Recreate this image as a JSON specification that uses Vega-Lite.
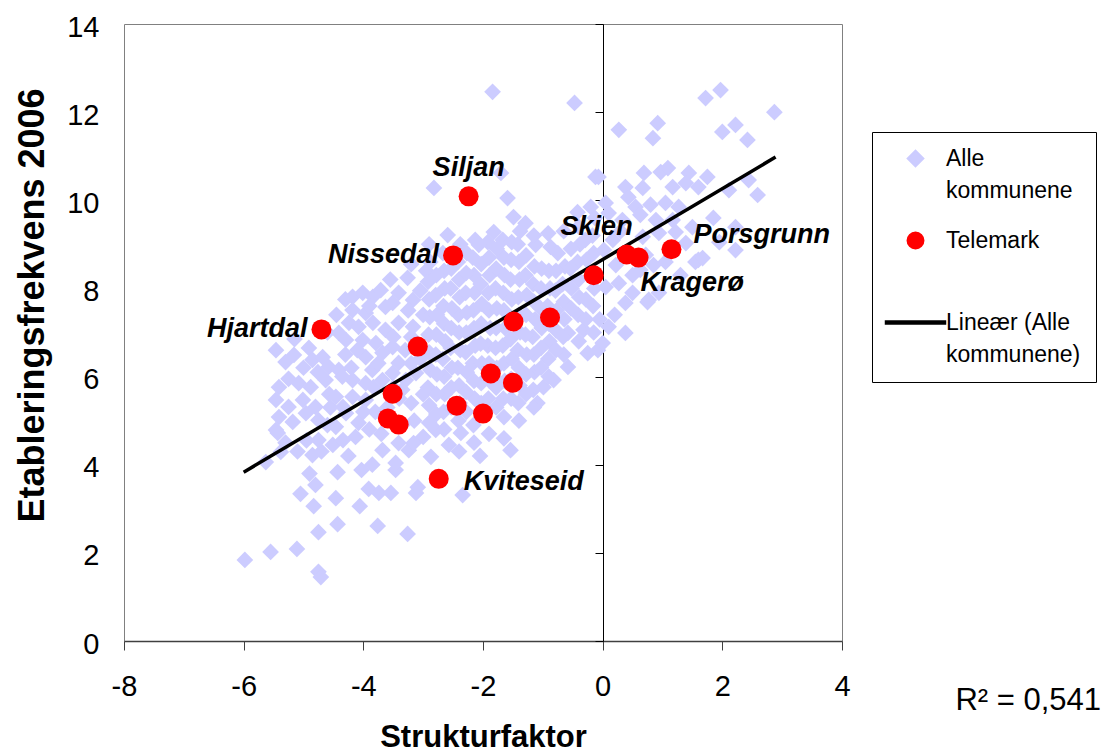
{
  "$schema": "https://vega.github.io/schema/vega-lite/v6.json",
  "autosize": "none",
  "width": 718,
  "height": 617,
  "padding": {"left": 124, "top": 24, "right": 264, "bottom": 112},
  "background": "white",
  "title": {
    "text": "R² = 0,541",
    "orient": "bottom",
    "anchor": "end",
    "frame": "group",
    "font": "Liberation Sans",
    "fontSize": 31,
    "fontWeight": "normal",
    "color": "#000000",
    "offset": -66,
    "dx": 259
  },
  "datasets": {
    "alle": [
      {"x":-5.98,"y":1.84},{"x":-5.55,"y":2.02},{"x":-5.11,"y":2.09},{"x":-4.75,"y":1.57},{"x":-4.71,"y":1.45},
      {"x":-4.75,"y":2.47},{"x":-5.05,"y":3.34},{"x":-4.83,"y":3.06},{"x":-4.8,"y":3.54},{"x":-4.85,"y":4.22},
      {"x":-5.63,"y":4.06},{"x":-5.38,"y":4.29},{"x":-5.43,"y":4.72},{"x":-4.75,"y":4.56},{"x":-4.51,"y":4.45},
      {"x":-5.46,"y":6.6},{"x":-5.16,"y":6.49},{"x":-5.3,"y":6.33},{"x":-4.91,"y":6.65},{"x":-4.85,"y":6.38},
      {"x":-4.68,"y":6.44},{"x":-4.76,"y":6.1},{"x":-5.41,"y":5.76},{"x":-5.08,"y":5.85},{"x":-4.88,"y":5.76},
      {"x":-5.46,"y":5.47},{"x":-5.25,"y":5.31},{"x":-5.01,"y":5.47},{"x":-4.8,"y":5.31},{"x":-5.41,"y":5.08},
      {"x":-5.18,"y":4.97},{"x":-4.96,"y":5.17},{"x":-4.75,"y":5.01},{"x":-5.46,"y":4.79},{"x":-5.15,"y":6.85},
      {"x":-4.58,"y":6.22},{"x":-4.63,"y":5.92},{"x":-4.6,"y":7.0},{"x":-4.55,"y":5.3},{"x":-4.6,"y":4.9},
      {"x":-4.95,"y":4.55},{"x":-5.1,"y":4.3},{"x":-5.25,"y":5.95},{"x":-5.0,"y":6.2},{"x":-4.57,"y":5.6},
      {"x":-5.3,"y":4.5},{"x":-4.7,"y":4.3},{"x":-4.9,"y":3.8},
      {"x":-4.43,"y":2.65},{"x":-4.46,"y":3.24},{"x":-4.06,"y":3.06},{"x":-4.43,"y":3.83},{"x":-4.03,"y":3.88},
      {"x":-3.91,"y":3.45},{"x":-3.74,"y":3.36},{"x":-3.54,"y":3.36},{"x":-3.46,"y":3.88},{"x":-3.12,"y":3.36},
      {"x":-3.76,"y":2.61},{"x":-3.26,"y":2.43},{"x":-4.34,"y":4.56},{"x":-4.13,"y":4.63},{"x":-3.68,"y":4.33},
      {"x":-3.46,"y":4.04},{"x":-3.24,"y":4.33},{"x":-3.41,"y":4.49},{"x":-3.0,"y":4.63},{"x":-4.25,"y":4.2},
      {"x":-3.85,"y":4.0},{"x":-4.18,"y":7.81},{"x":-4.01,"y":7.9},{"x":-3.84,"y":7.81},{"x":-3.71,"y":7.96},
      {"x":-3.63,"y":7.58},{"x":-3.51,"y":7.67},{"x":-3.41,"y":7.9},{"x":-3.26,"y":8.24},{"x":-3.17,"y":7.74},
      {"x":-4.18,"y":7.51},{"x":-3.96,"y":7.44},{"x":-4.24,"y":7.22},{"x":-4.08,"y":7.13},{"x":-3.84,"y":7.22},
      {"x":-3.63,"y":7.06},{"x":-3.41,"y":7.22},{"x":-3.17,"y":7.13},{"x":-4.41,"y":6.99},{"x":-4.29,"y":6.83},
      {"x":-4.01,"y":6.83},{"x":-3.79,"y":6.76},{"x":-3.51,"y":6.67},{"x":-3.68,"y":6.54},{"x":-3.96,"y":6.44},
      {"x":-3.41,"y":6.31},{"x":-3.51,"y":6.08},{"x":-3.68,"y":5.92},{"x":-3.29,"y":5.92},{"x":-3.12,"y":6.08},
      {"x":-4.41,"y":6.15},{"x":-4.18,"y":5.92},{"x":-3.96,"y":5.85},{"x":-4.46,"y":5.54},{"x":-4.34,"y":5.31},
      {"x":-4.18,"y":5.54},{"x":-3.96,"y":5.47},{"x":-3.83,"y":5.76},{"x":-4.46,"y":4.86},{"x":-4.29,"y":5.17},
      {"x":-4.08,"y":4.95},{"x":-4.45,"y":7.4},{"x":-4.3,"y":7.75},{"x":-4.3,"y":6.5},{"x":-4.2,"y":6.2},
      {"x":-3.85,"y":6.15},{"x":-3.3,"y":6.6},{"x":-3.2,"y":6.9},{"x":-3.8,"y":5.2},{"x":-3.6,"y":5.3},
      {"x":-3.4,"y":5.5},{"x":-3.2,"y":5.4},{"x":-3.9,"y":4.8},{"x":-3.7,"y":4.7},{"x":-3.35,"y":4.9},
      {"x":-3.15,"y":5.0},{"x":-3.0,"y":5.6},{"x":-3.05,"y":6.4},{"x":-3.0,"y":7.4},{"x":-3.05,"y":7.95},
      {"x":-3.55,"y":8.2},{"x":-3.2,"y":8.55},{"x":-2.95,"y":8.4},{"x":-3.35,"y":5.7},{"x":-3.2,"y":6.3},
      {"x":-3.5,"y":6.9},{"x":-3.75,"y":6.3},{"x":-4.1,"y":6.6},{"x":-4.35,"y":6.0},{"x":-4.0,"y":5.2},
      {"x":-3.5,"y":5.75},{"x":-3.25,"y":7.5},{"x":-3.9,"y":7.6},
      {"x":-3.09,"y":3.49},{"x":-2.87,"y":4.18},{"x":-3.16,"y":4.49},{"x":-2.79,"y":4.79},{"x":-2.57,"y":4.45},
      {"x":-2.37,"y":4.72},{"x":-2.34,"y":3.31},{"x":-2.05,"y":4.2},{"x":-1.54,"y":4.33},{"x":-1.65,"y":5.08},
      {"x":-2.9,"y":4.95},{"x":-2.9,"y":5.35},{"x":-2.92,"y":5.75},{"x":-2.88,"y":6.15},{"x":-2.9,"y":6.55},
      {"x":-2.91,"y":6.95},{"x":-2.89,"y":7.35},{"x":-2.9,"y":7.75},{"x":-2.92,"y":8.15},{"x":-2.88,"y":8.6},
      {"x":-2.9,"y":9.0},
      {"x":-2.65,"y":4.8},{"x":-2.66,"y":5.2},{"x":-2.64,"y":5.6},{"x":-2.65,"y":6.0},{"x":-2.67,"y":6.4},
      {"x":-2.63,"y":6.8},{"x":-2.65,"y":7.2},{"x":-2.66,"y":7.6},{"x":-2.64,"y":8.0},{"x":-2.65,"y":8.4},
      {"x":-2.67,"y":8.8},
      {"x":-2.4,"y":4.3},{"x":-2.41,"y":5.0},{"x":-2.39,"y":5.4},{"x":-2.4,"y":5.8},{"x":-2.42,"y":6.2},
      {"x":-2.38,"y":6.6},{"x":-2.4,"y":7.0},{"x":-2.41,"y":7.4},{"x":-2.39,"y":7.8},{"x":-2.4,"y":8.2},
      {"x":-2.42,"y":8.6},{"x":-2.38,"y":9.0},
      {"x":-2.15,"y":4.5},{"x":-2.16,"y":4.9},{"x":-2.14,"y":5.5},{"x":-2.15,"y":5.9},{"x":-2.17,"y":6.3},
      {"x":-2.13,"y":6.7},{"x":-2.15,"y":7.1},{"x":-2.16,"y":7.5},{"x":-2.14,"y":7.9},{"x":-2.15,"y":8.3},
      {"x":-2.17,"y":8.7},{"x":-2.13,"y":9.1},
      {"x":-1.9,"y":4.7},{"x":-1.91,"y":5.5},{"x":-1.89,"y":5.9},{"x":-1.9,"y":6.3},{"x":-1.92,"y":6.7},
      {"x":-1.88,"y":7.1},{"x":-1.9,"y":7.5},{"x":-1.91,"y":7.9},{"x":-1.89,"y":8.3},{"x":-1.9,"y":8.7},
      {"x":-1.92,"y":9.05},
      {"x":-1.65,"y":4.6},{"x":-1.66,"y":5.5},{"x":-1.64,"y":5.9},{"x":-1.65,"y":6.3},{"x":-1.67,"y":6.7},
      {"x":-1.63,"y":7.1},{"x":-1.65,"y":7.5},{"x":-1.66,"y":7.9},{"x":-1.64,"y":8.3},{"x":-1.65,"y":8.7},
      {"x":-1.67,"y":9.1},
      {"x":-2.78,"y":5.15},{"x":-2.78,"y":5.6},{"x":-2.77,"y":6.05},{"x":-2.79,"y":6.5},{"x":-2.78,"y":6.95},
      {"x":-2.77,"y":7.4},{"x":-2.79,"y":7.85},{"x":-2.78,"y":8.3},
      {"x":-2.53,"y":5.3},{"x":-2.53,"y":5.75},{"x":-2.52,"y":6.2},{"x":-2.54,"y":6.65},{"x":-2.53,"y":7.1},
      {"x":-2.52,"y":7.55},{"x":-2.54,"y":8.0},{"x":-2.53,"y":8.45},
      {"x":-2.28,"y":5.2},{"x":-2.28,"y":5.65},{"x":-2.27,"y":6.1},{"x":-2.29,"y":6.55},{"x":-2.28,"y":7.0},
      {"x":-2.27,"y":7.45},{"x":-2.29,"y":7.9},{"x":-2.28,"y":8.35},{"x":-2.27,"y":8.8},
      {"x":-2.03,"y":5.4},{"x":-2.03,"y":5.85},{"x":-2.02,"y":6.3},{"x":-2.04,"y":6.75},{"x":-2.03,"y":7.2},
      {"x":-2.02,"y":7.65},{"x":-2.04,"y":8.1},{"x":-2.03,"y":8.55},
      {"x":-1.78,"y":5.3},{"x":-1.78,"y":5.75},{"x":-1.77,"y":6.2},{"x":-1.79,"y":6.65},{"x":-1.78,"y":7.1},
      {"x":-1.77,"y":7.55},{"x":-1.79,"y":8.0},{"x":-1.78,"y":8.45},{"x":-1.77,"y":8.9},
      {"x":-1.53,"y":5.5},{"x":-1.53,"y":5.95},{"x":-1.52,"y":6.4},{"x":-1.54,"y":6.85},{"x":-1.53,"y":7.3},
      {"x":-1.52,"y":7.75},{"x":-1.54,"y":8.2},{"x":-1.53,"y":8.65},{"x":-1.52,"y":9.05},
      {"x":-2.82,"y":10.28},{"x":-1.84,"y":12.46},{"x":-1.59,"y":10.05},{"x":-1.7,"y":10.62},{"x":-1.49,"y":9.62},
      {"x":-1.29,"y":9.48},{"x":-1.82,"y":9.28},{"x":-2.07,"y":8.99},{"x":-2.59,"y":9.21},{"x":-1.12,"y":8.99},
      {"x":-0.87,"y":8.94},{"x":-0.75,"y":8.8},{"x":-0.42,"y":9.73},{"x":-0.2,"y":9.85},{"x":-0.12,"y":10.53},
      {"x":-0.47,"y":12.21},{"x":-1.09,"y":5.4},{"x":-0.99,"y":5.76},{"x":-0.82,"y":5.92},{"x":-0.58,"y":6.22},
      {"x":-0.25,"y":6.53},{"x":-0.08,"y":6.6},{"x":-0.32,"y":7.06},{"x":-0.58,"y":6.99},
      {"x":-1.4,"y":5.0},{"x":-1.41,"y":5.4},{"x":-1.39,"y":5.8},{"x":-1.4,"y":6.2},{"x":-1.42,"y":6.6},
      {"x":-1.38,"y":7.0},{"x":-1.4,"y":7.4},{"x":-1.41,"y":7.8},{"x":-1.39,"y":8.2},{"x":-1.4,"y":8.6},
      {"x":-1.42,"y":9.0},{"x":-1.38,"y":9.3},
      {"x":-1.15,"y":5.3},{"x":-1.16,"y":5.7},{"x":-1.14,"y":6.1},{"x":-1.15,"y":6.5},{"x":-1.17,"y":6.9},
      {"x":-1.13,"y":7.3},{"x":-1.15,"y":7.7},{"x":-1.16,"y":8.1},{"x":-1.14,"y":8.5},{"x":-1.15,"y":9.2},
      {"x":-0.9,"y":6.0},{"x":-0.91,"y":6.4},{"x":-0.89,"y":6.8},{"x":-0.9,"y":7.2},{"x":-0.92,"y":7.6},
      {"x":-0.88,"y":8.0},{"x":-0.9,"y":8.4},{"x":-0.91,"y":9.25},
      {"x":-0.65,"y":6.5},{"x":-0.66,"y":6.9},{"x":-0.64,"y":7.3},{"x":-0.65,"y":7.7},{"x":-0.67,"y":8.1},
      {"x":-0.63,"y":8.5},{"x":-0.65,"y":9.3},
      {"x":-0.4,"y":6.8},{"x":-0.41,"y":7.4},{"x":-0.39,"y":7.8},{"x":-0.4,"y":8.2},{"x":-0.42,"y":8.6},
      {"x":-0.38,"y":9.0},{"x":-0.4,"y":9.4},
      {"x":-0.15,"y":7.0},{"x":-0.16,"y":7.6},{"x":-0.14,"y":8.0},{"x":-0.15,"y":8.8},{"x":-0.17,"y":9.2},
      {"x":-0.13,"y":9.6},
      {"x":-1.28,"y":5.6},{"x":-1.28,"y":6.05},{"x":-1.27,"y":6.5},{"x":-1.29,"y":6.95},{"x":-1.28,"y":7.4},
      {"x":-1.27,"y":7.85},{"x":-1.29,"y":8.3},{"x":-1.28,"y":8.75},
      {"x":-1.03,"y":6.2},{"x":-1.03,"y":6.65},{"x":-1.02,"y":7.1},{"x":-1.04,"y":7.55},{"x":-1.03,"y":8.0},
      {"x":-1.02,"y":8.45},
      {"x":-0.78,"y":6.6},{"x":-0.78,"y":7.05},{"x":-0.77,"y":7.5},{"x":-0.79,"y":7.95},{"x":-0.78,"y":8.4},
      {"x":-0.53,"y":7.55},{"x":-0.52,"y":8.0},{"x":-0.54,"y":8.45},{"x":-0.53,"y":8.9},
      {"x":-0.28,"y":7.3},{"x":-0.28,"y":7.75},{"x":-0.27,"y":8.65},{"x":-0.29,"y":9.1},
      {"x":1.72,"y":12.32},{"x":1.97,"y":12.5},{"x":2.87,"y":12.0},{"x":0.27,"y":11.6},{"x":0.92,"y":11.75},
      {"x":0.84,"y":11.41},{"x":2.0,"y":11.55},{"x":2.22,"y":11.71},{"x":2.42,"y":11.37},{"x":-0.07,"y":10.53},
      {"x":0.38,"y":10.3},{"x":0.69,"y":10.62},{"x":0.97,"y":10.64},{"x":1.09,"y":10.73},{"x":1.44,"y":10.62},
      {"x":1.75,"y":10.53},{"x":0.67,"y":10.28},{"x":1.17,"y":10.3},{"x":1.39,"y":10.39},{"x":1.6,"y":10.3},
      {"x":2.11,"y":10.23},{"x":2.44,"y":10.46},{"x":2.59,"y":10.12},{"x":0.05,"y":9.94},{"x":0.43,"y":10.07},
      {"x":0.55,"y":9.85},{"x":1.05,"y":9.94},{"x":1.27,"y":9.85},{"x":0.1,"y":9.71},{"x":0.33,"y":9.55},
      {"x":0.89,"y":9.55},{"x":1.17,"y":9.55},{"x":1.5,"y":9.39},{"x":2.22,"y":9.39},{"x":0.94,"y":9.26},
      {"x":1.22,"y":9.28},{"x":0.67,"y":9.17},{"x":1.39,"y":9.03},{"x":1.6,"y":8.65},{"x":1.05,"y":8.6},
      {"x":0.85,"y":8.53},{"x":0.27,"y":8.12},{"x":0.5,"y":7.9},{"x":0.77,"y":7.74},{"x":0.94,"y":7.9},
      {"x":0.38,"y":7.67},{"x":0.05,"y":8.03},{"x":0.1,"y":7.13},{"x":0.38,"y":6.99},{"x":0.0,"y":6.76},
      {"x":0.02,"y":8.87},{"x":0.17,"y":9.1},{"x":0.63,"y":8.42},{"x":0.72,"y":8.76},{"x":0.75,"y":7.69},
      {"x":1.55,"y":8.6},{"x":1.67,"y":8.69},{"x":2.22,"y":8.87},{"x":0.63,"y":9.67},{"x":0.22,"y":8.53},
      {"x":-0.05,"y":7.3},{"x":0.2,"y":7.4},{"x":0.3,"y":9.3},{"x":0.5,"y":8.3},{"x":0.8,"y":9.9},
      {"x":1.3,"y":8.3},{"x":1.85,"y":9.6},{"x":1.95,"y":9.05}
    ],
    "tele": [
      {"x":-4.7,"y":7.07,"name":"Hjartdal"},
      {"x":-2.24,"y":10.09,"name":"Siljan"},
      {"x":-2.5,"y":8.75,"name":"Nissedal"},
      {"x":0.4,"y":8.77,"name":"Skien"},
      {"x":0.6,"y":8.7,"name":"Kragerø"},
      {"x":1.15,"y":8.89,"name":"Porsgrunn"},
      {"x":-0.15,"y":8.3,"name":""},
      {"x":-1.49,"y":7.25,"name":""},
      {"x":-0.88,"y":7.34,"name":""},
      {"x":-3.09,"y":6.68,"name":""},
      {"x":-1.87,"y":6.07,"name":""},
      {"x":-1.5,"y":5.86,"name":""},
      {"x":-2.44,"y":5.34,"name":""},
      {"x":-2.0,"y":5.16,"name":""},
      {"x":-2.74,"y":3.68,"name":"Kviteseid"},
      {"x":-3.51,"y":5.61,"name":""},
      {"x":-3.59,"y":5.05,"name":""},
      {"x":-3.41,"y":4.91,"name":""}
    ],
    "trend": [
      {"x":-6.0,"y":3.83},
      {"x":2.89,"y":10.98}
    ]
  },
  "encoding": {
    "x": {
      "field": "x",
      "type": "quantitative",
      "scale": {"domain": [-8, 4], "nice": false, "zero": false},
      "axis": {
        "title": "Strukturfaktor",
        "values": [-8, -6, -4, -2, 0, 2, 4],
        "labelExpr": "toString(datum.value)",
        "grid": false,
        "domainColor": "#404040",
        "domainWidth": 1.5,
        "tickColor": "#404040",
        "tickSize": 9,
        "labelFontSize": 29,
        "labelColor": "#000000",
        "labelPadding": 22,
        "labelFlush": false,
        "labelOverlap": false,
        "titleFontSize": 31,
        "titleFontWeight": "bold",
        "titleColor": "#000000",
        "titleBaseline": "alphabetic",
        "titleAlign": "center",
        "titleX": 359,
        "titleY": 105
      }
    },
    "y": {
      "field": "y",
      "type": "quantitative",
      "scale": {"domain": [0, 14], "nice": false, "zero": false},
      "axis": {
        "title": "Etableringsfrekvens 2006",
        "values": [0, 2, 4, 6, 8, 10, 12, 14],
        "grid": false,
        "offset": -479,
        "domainColor": "#000000",
        "domainWidth": 1,
        "tickColor": "#000000",
        "tickSize": 8,
        "labelFontSize": 29,
        "labelColor": "#000000",
        "labelPadding": 496,
        "labelOffset": 3,
        "labelFlush": false,
        "labelOverlap": false,
        "titleFontSize": 36,
        "titleFontWeight": "bold",
        "titleColor": "#000000",
        "titleAngle": -90,
        "titleBaseline": "alphabetic",
        "titleAlign": "center",
        "titleX": -560,
        "titleY": 281
      }
    }
  },
  "layer": [
    {
      "data": {"name": "alle"},
      "mark": {"type": "point", "filled": true, "size": 280, "opacity": 1, "strokeWidth": 0},
      "encoding": {
        "color": {
          "datum": "Alle kommunene",
          "type": "nominal",
          "scale": {
            "domain": ["Alle kommunene", "Telemark", "Lineær (Alle kommunene)"],
            "range": ["#CCCCFF", "#FF0000", "#000000"]
          },
          "legend": {
            "title": null,
            "orient": "none",
            "legendX": 748,
            "legendY": 108,
            "padding": 15,
            "strokeColor": "#000000",
            "fillColor": "#ffffff",
            "labelFont": "Liberation Sans",
            "labelFontSize": 23,
            "labelColor": "#000000",
            "labelLimit": 0,
            "labelBaseline": "middle",
            "symbolSize": 270,
            "symbolOffset": 17,
            "labelOffset": 19,
            "rowPadding": 26,
            "labelExpr": "datum.value === 'Alle kommunene' ? ['Alle', 'kommunene'] : datum.value === 'Telemark' ? ['Telemark', ' '] : ['Lineær (Alle', 'kommunene)']"
          }
        },
        "shape": {
          "datum": "Alle kommunene",
          "type": "nominal",
          "scale": {
            "domain": ["Alle kommunene", "Telemark", "Lineær (Alle kommunene)"],
            "range": ["diamond", "circle", "M-3.65,-0.18H3.65V0.18H-3.65Z"]
          },
          "legend": {
            "title": null,
            "orient": "none",
            "legendX": 748,
            "legendY": 108
          }
        }
      }
    },
    {
      "data": {"name": "trend"},
      "mark": {"type": "line", "strokeWidth": 3.5},
      "encoding": {
        "color": {"datum": "Lineær (Alle kommunene)", "type": "nominal", "legend": null}
      }
    },
    {
      "data": {"name": "tele"},
      "mark": {"type": "point", "filled": true, "size": 400, "opacity": 1, "strokeWidth": 0},
      "encoding": {
        "color": {"datum": "Telemark", "type": "nominal", "legend": null},
        "shape": {"datum": "Telemark", "type": "nominal", "legend": null}
      }
    },
    {
      "data": {"name": "tele"},
      "transform": [{"filter": "datum.name === 'Siljan'"}],
      "mark": {"type": "text", "align": "center", "baseline": "middle", "dy": -28, "font": "Liberation Sans", "fontSize": 27, "fontWeight": "bold", "fontStyle": "italic", "color": "#000000"},
      "encoding": {"text": {"field": "name"}}
    },
    {
      "data": {"name": "tele"},
      "transform": [{"filter": "datum.name === 'Nissedal' || datum.name === 'Hjartdal'"}],
      "mark": {"type": "text", "align": "right", "baseline": "middle", "dx": -14, "dy": 0, "font": "Liberation Sans", "fontSize": 27, "fontWeight": "bold", "fontStyle": "italic", "color": "#000000"},
      "encoding": {"text": {"field": "name"}}
    },
    {
      "data": {"name": "tele"},
      "transform": [{"filter": "datum.name === 'Skien'"}],
      "mark": {"type": "text", "align": "center", "baseline": "middle", "dx": -30, "dy": -27, "font": "Liberation Sans", "fontSize": 27, "fontWeight": "bold", "fontStyle": "italic", "color": "#000000"},
      "encoding": {"text": {"field": "name"}}
    },
    {
      "data": {"name": "tele"},
      "transform": [{"filter": "datum.name === 'Kragerø'"}],
      "mark": {"type": "text", "align": "left", "baseline": "middle", "dx": 2, "dy": 25, "font": "Liberation Sans", "fontSize": 27, "fontWeight": "bold", "fontStyle": "italic", "color": "#000000"},
      "encoding": {"text": {"field": "name"}}
    },
    {
      "data": {"name": "tele"},
      "transform": [{"filter": "datum.name === 'Porsgrunn'"}],
      "mark": {"type": "text", "align": "left", "baseline": "middle", "dx": 22, "dy": -14, "font": "Liberation Sans", "fontSize": 27, "fontWeight": "bold", "fontStyle": "italic", "color": "#000000"},
      "encoding": {"text": {"field": "name"}}
    },
    {
      "data": {"name": "tele"},
      "transform": [{"filter": "datum.name === 'Kviteseid'"}],
      "mark": {"type": "text", "align": "left", "baseline": "middle", "dx": 25, "dy": 3, "font": "Liberation Sans", "fontSize": 27, "fontWeight": "bold", "fontStyle": "italic", "color": "#000000"},
      "encoding": {"text": {"field": "name"}}
    }
  ],
  "config": {
    "font": "Liberation Sans",
    "view": {"stroke": "#808080", "strokeWidth": 1},
    "axis": {"labelFont": "Liberation Sans", "titleFont": "Liberation Sans"},
    "style": {"guide-label": {"lineHeight": 32}}
  }
}
